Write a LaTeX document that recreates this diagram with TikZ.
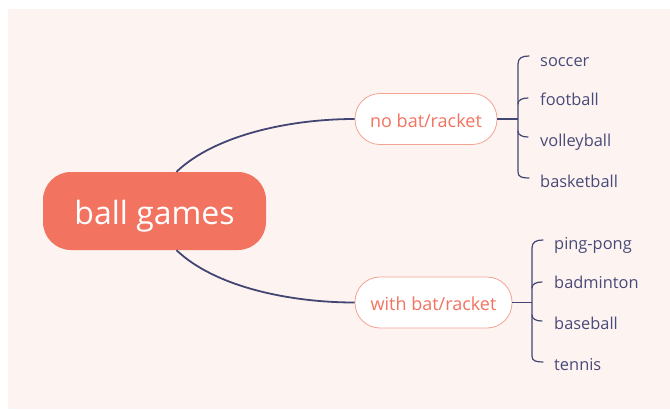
\documentclass[tikz,border=0pt]{standalone}
\usepackage{fontspec}
\setmainfont{Open Sans}
\definecolor{bgc}{HTML}{FDF4F2}
\definecolor{salmon}{HTML}{F27360}
\definecolor{salmonl}{HTML}{F4A392}
\definecolor{navy}{HTML}{434573}
\definecolor{navyt}{HTML}{4A4A78}
\tikzset{
  mainbox/.style={fill=salmon, text=white, rounded corners=28pt, minimum width=223pt, minimum height=78pt, inner sep=0pt, text height=26pt, text depth=0pt, font=\fontsize{32}{38}\selectfont},
  subbox/.style={fill=white, draw=salmonl, line width=0.8pt, text=salmon, rounded corners=25pt, minimum height=51pt, inner sep=0pt, text height=16pt, text depth=0pt, font=\fontsize{18}{22}\selectfont},
  item/.style={anchor=base west, text=navyt, inner sep=0pt, font=\fontsize{16.4}{20}\selectfont},
  link/.style={draw=navy, line width=1.8pt},
  brace/.style={draw=navy, line width=1.2pt, line cap=round},
}
\begin{document}
\begin{tikzpicture}[x=1pt,y=-1pt]
\useasboundingbox (0,0) rectangle (670,410);
\fill[bgc] (8,9) rectangle (670,409);
\node[mainbox] (main) at (154.5,211) {ball games};
\node[subbox, minimum width=142pt] (nb) at (426,119) {no bat/racket};
\node[subbox, minimum width=157pt, text height=15pt] (wb) at (433.5,302.5) {with bat/racket};
% links
\draw[link] ([xshift=22pt]main.north) .. controls (215,135) and (290,119) .. (nb.west);
\draw[link] ([xshift=22pt]main.south) .. controls (215,287) and (290,302.5) .. (wb.west);
% upper group
\node[item] (soccer) at (540,66) {soccer};
\node[item] (football) at (540,105) {football};
\node[item] (volley) at (540,146) {volleyball};
\node[item] (basket) at (540,187) {basketball};
\coordinate (ba) at (518,119);
\draw[link, line width=1.5pt] (nb.east) -- (ba);
\draw[brace] (529,56) .. controls (522,56) and (518,58) .. (518,64) -- (518,172) .. controls (518,177) and (522,178) .. (529,178);
\draw[brace] (518,104) .. controls (518,100) and (522,98) .. (528,98);
\draw[brace] (518,131) .. controls (518,135) and (522,137) .. (528,137);
% lower group
\node[item] (ping) at (554,249) {ping-pong};
\node[item] (badm) at (554,288) {badminton};
\node[item] (baseb) at (554,329) {baseball};
\node[item] (tennis) at (554,370) {tennis};
\coordinate (bb) at (532,302.5);
\draw[link, line width=1.5pt] (wb.east) -- (bb);
\draw[brace] (543,240) .. controls (536,240) and (532,242) .. (532,248) -- (532,356) .. controls (532,361) and (536,362) .. (543,362);
\draw[brace] (532,288) .. controls (532,284) and (536,282) .. (542,282);
\draw[brace] (532,315) .. controls (532,319) and (536,321) .. (542,321);
\end{tikzpicture}
\end{document}
